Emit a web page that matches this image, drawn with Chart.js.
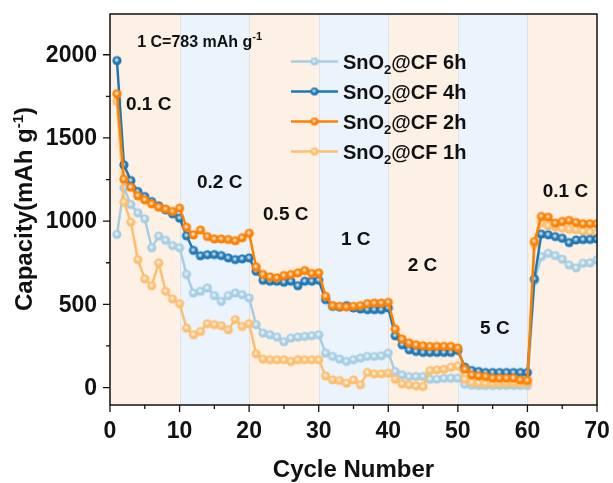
<!DOCTYPE html>
<html>
<head>
<meta charset="utf-8">
<script src="https://cdn.jsdelivr.net/npm/chart.js@4"></script>
<style>
  html, body { margin: 0; padding: 0; background: #fff; }
  #wrap { width: 613px; height: 483px; }
</style>
</head>
<body>
<div id="wrap"><canvas id="chartRate" width="613" height="483"></canvas></div>
<script>
// Rate capability data (mAh g-1), cycles 1..70
const cycles = Array.from({ length: 70 }, (_, i) => i + 1);

const cap6h = [920, 1200, 1100, 1050, 1014, 840, 910, 885, 853, 840,
  680, 568, 578, 598, 552, 518, 552, 568, 558, 538,
  378, 327, 317, 303, 275, 297, 303, 307, 311, 317,
  207, 187, 171, 157, 167, 177, 187, 187, 191, 207,
  96, 76, 66, 66, 66, 50, 50, 56, 56, 56,
  20, 14, 12, 12, 12, 12, 12, 12, 12, 12,
  640, 787, 807, 793, 771, 737, 719, 747, 749, 767];

const cap4h = [1965, 1338, 1244, 1178, 1148, 1118, 1092, 1068, 1044, 1018,
  912, 824, 792, 798, 799, 793, 779, 769, 773, 779,
  699, 645, 639, 639, 633, 639, 612, 639, 639, 645,
  528, 488, 484, 492, 478, 472, 468, 468, 468, 478,
  311, 257, 227, 217, 211, 211, 211, 211, 211, 223,
  122, 102, 96, 90, 90, 90, 90, 90, 90, 90,
  653, 922, 918, 907, 897, 871, 887, 889, 890, 893];

const cap2h = [1765, 1252, 1204, 1152, 1128, 1104, 1084, 1072, 1058, 1078,
  963, 917, 947, 907, 893, 893, 890, 882, 900, 927,
  725, 679, 665, 659, 673, 679, 689, 703, 685, 689,
  548, 492, 488, 484, 488, 492, 504, 508, 508, 512,
  351, 291, 267, 257, 251, 247, 247, 247, 247, 237,
  110, 76, 70, 66, 56, 56, 56, 56, 46, 42,
  877, 1028, 1024, 988, 998, 1004, 992, 984, 984, 984];

const cap1h = [1720, 1115, 994, 769, 653, 612, 749, 578, 532, 504,
  357, 317, 337, 384, 378, 371, 347, 408, 367, 384,
  203, 171, 167, 167, 167, 157, 167, 167, 167, 167,
  70, 46, 42, 26, 46, 16, 90, 82, 82, 86,
  50, 22, 16, 10, 6, 102, 106, 110, 122, 130,
  50, 30, 26, 26, 26, 26, 26, 26, 26, 26,
  860, 990, 972, 966, 958, 952, 948, 940, 934, 930];

const seriesNames = ['SnO₂@CF 6h', 'SnO₂@CF 4h', 'SnO₂@CF 2h', 'SnO₂@CF 1h'];
const seriesColors = ['#a6cee3', '#1f78b4', '#ff7f00', '#fdbf6f'];

const yTicks = [0, 500, 1000, 1500, 2000];
const xTicks = [0, 10, 20, 30, 40, 50, 60, 70];

// rate regions: [start, end, label, label x, label y]
const rateBands = [
  [0, 10, '0.1 C', 2.3, 1669],
  [10, 20, '0.2 C', 12.5, 1202],
  [20, 30, '0.5 C', 22.0, 1004],
  [30, 40, '1 C', 33.2, 858],
  [40, 50, '2 C', 42.8, 703],
  [50, 60, '5 C', 53.2, 321],
  [60, 70, '0.1 C', 62.2, 1148]
];

const FONT = "'Liberation Sans', Arial, Helvetica, sans-serif";

// marker: coloured ball with white highlight
function makeDot(color, r) {
  const c = document.createElement('canvas');
  const s = Math.ceil(r * 2 + 2);
  c.width = s; c.height = s;
  const g = c.getContext('2d');
  const cx = s / 2, cy = s / 2;
  g.beginPath();
  g.arc(cx, cy, r, 0, Math.PI * 2);
  g.fillStyle = color;
  g.fill();
  const hl = g.createRadialGradient(cx - 0.4, cy - 0.6, 0, cx - 0.4, cy - 0.6, r * 0.6);
  hl.addColorStop(0, 'rgba(255,255,255,0.95)');
  hl.addColorStop(1, 'rgba(255,255,255,0)');
  g.fillStyle = hl;
  g.beginPath();
  g.arc(cx, cy, r, 0, Math.PI * 2);
  g.fill();
  return c;
}

const dots = seriesColors.map(c => makeDot(c, 4.6));
const legendDots = seriesColors.map(c => makeDot(c, 4));

function drawSubText(ctx, x, y, parts) {
  // parts: [text, size, dy]
  let cx = x;
  parts.forEach(p => {
    ctx.font = 'bold ' + p[1] + 'px ' + FONT;
    ctx.fillText(p[0], cx, y + p[2]);
    cx += ctx.measureText(p[0]).width;
  });
  return cx - x;
}
function measureParts(ctx, parts) {
  let w = 0;
  parts.forEach(p => { ctx.font = 'bold ' + p[1] + 'px ' + FONT; w += ctx.measureText(p[0]).width; });
  return w;
}

const bandsPlugin = {
  id: 'bands',
  beforeDatasetsDraw(chart) {
    const { ctx, chartArea: a, scales: { x } } = chart;
    ctx.save();
    rateBands.forEach((b, i) => {
      const x0 = x.getPixelForValue(b[0]), x1 = x.getPixelForValue(b[1]);
      ctx.fillStyle = i % 2 === 0 ? '#fdf0e5' : '#ebf3fd';
      ctx.fillRect(x0, a.top, x1 - x0, a.bottom - a.top);
    });
    ctx.strokeStyle = '#e2e2e2';
    ctx.lineWidth = 1;
    rateBands.slice(1).forEach(b => {
      const px = Math.round(x.getPixelForValue(b[0])) + 0.5;
      ctx.beginPath(); ctx.moveTo(px, a.top); ctx.lineTo(px, a.bottom); ctx.stroke();
    });
    ctx.restore();
  },
  afterDraw(chart) {
    const { ctx, chartArea: a, scales: { x, y } } = chart;
    ctx.save();
    // frame
    ctx.strokeStyle = '#111';
    ctx.lineWidth = 1.5;
    ctx.strokeRect(a.left, a.top, a.right - a.left, a.bottom - a.top);
    // ticks (major + minor), outward
    ctx.lineWidth = 1.3;
    ctx.beginPath();
    for (let v = 0; v <= 2000; v += 250) {
      const py = y.getPixelForValue(v);
      const len = v % 500 === 0 ? 7 : 4;
      ctx.moveTo(a.left, py); ctx.lineTo(a.left - len, py);
    }
    for (let v = 0; v <= 70; v += 5) {
      const px = x.getPixelForValue(v);
      const len = v % 10 === 0 ? 7 : 4;
      ctx.moveTo(px, a.bottom); ctx.lineTo(px, a.bottom + len);
    }
    ctx.stroke();

    // tick labels
    ctx.fillStyle = '#111';
    ctx.font = 'bold 23px ' + FONT;
    ctx.textAlign = 'right';
    ctx.textBaseline = 'middle';
    yTicks.forEach(v => ctx.fillText(String(v), a.left - 13, y.getPixelForValue(v) + 1));
    ctx.textAlign = 'center';
    ctx.textBaseline = 'alphabetic';
    xTicks.forEach(v => ctx.fillText(String(v), x.getPixelForValue(v), 438));

    // rate labels
    ctx.textAlign = 'left';
    ctx.font = 'bold 19px ' + FONT;
    rateBands.forEach(b => {
      ctx.fillText(b[2], x.getPixelForValue(b[3]), y.getPixelForValue(b[4]));
    });
    drawSubText(ctx, x.getPixelForValue(3.9), y.getPixelForValue(2049),
      [['1 C=783 mAh g', 16, 0], ['-1', 11, -7]]);

    // legend
    chart.data.datasets.forEach((ds, i) => {
      const rowY = 61.5 + i * 30;
      ctx.strokeStyle = ds.borderColor;
      ctx.lineWidth = 2.5;
      ctx.beginPath(); ctx.moveTo(291, rowY); ctx.lineTo(338, rowY); ctx.stroke();
      const d = legendDots[i];
      ctx.drawImage(d, 314.5 - d.width / 2, rowY - d.height / 2);
      const tail = ds.label.split('₂')[1];
      ctx.fillStyle = '#111';
      drawSubText(ctx, 343, rowY + 7, [['SnO', 20, 0], ['2', 13, 5], [tail, 20, 0]]);
    });

    // axis titles
    ctx.textAlign = 'center';
    ctx.font = 'bold 24px ' + FONT;
    ctx.fillText('Cycle Number', (a.left + a.right) / 2, 477);
    const tParts = [['Capacity(mAh g', 24, 0], ['-1', 15, -9], [')', 24, 0]];
    ctx.translate(32, 209);
    ctx.rotate(-Math.PI / 2);
    ctx.textAlign = 'left';
    drawSubText(ctx, -measureParts(ctx, tParts) / 2, 0, tParts);
    ctx.restore();
  }
};

const allSeries = [cap6h, cap4h, cap2h, cap1h];
const drawOrder = [3, 1, 0, 2];

const ctxRate = document.getElementById('chartRate').getContext('2d');
new Chart(ctxRate, {
  type: 'line',
  data: {
    labels: cycles,
    datasets: allSeries.map((arr, i) => ({
      label: seriesNames[i],
      data: arr,
      borderColor: seriesColors[i],
      backgroundColor: seriesColors[i],
      borderWidth: 2.5,
      pointStyle: dots[i],
      pointRadius: 4.6,
      tension: 0,
      order: drawOrder[i]
    }))
  },
  options: {
    responsive: false,
    animation: false,
    events: [],
    layout: { padding: { left: 0, right: 16, top: 14, bottom: 0 } },
    plugins: { legend: { display: false }, tooltip: { enabled: false } },
    scales: {
      x: {
        type: 'linear',
        min: 0, max: 70,
        afterFit(s) { s.height = 78; },
        grid: { display: false, drawTicks: false },
        border: { display: false },
        ticks: { display: false }
      },
      y: {
        min: -105, max: 2245,
        afterFit(s) { s.width = 110; },
        grid: { display: false, drawTicks: false },
        border: { display: false },
        ticks: { display: false }
      }
    }
  },
  plugins: [bandsPlugin]
});
</script>
</body>
</html>
